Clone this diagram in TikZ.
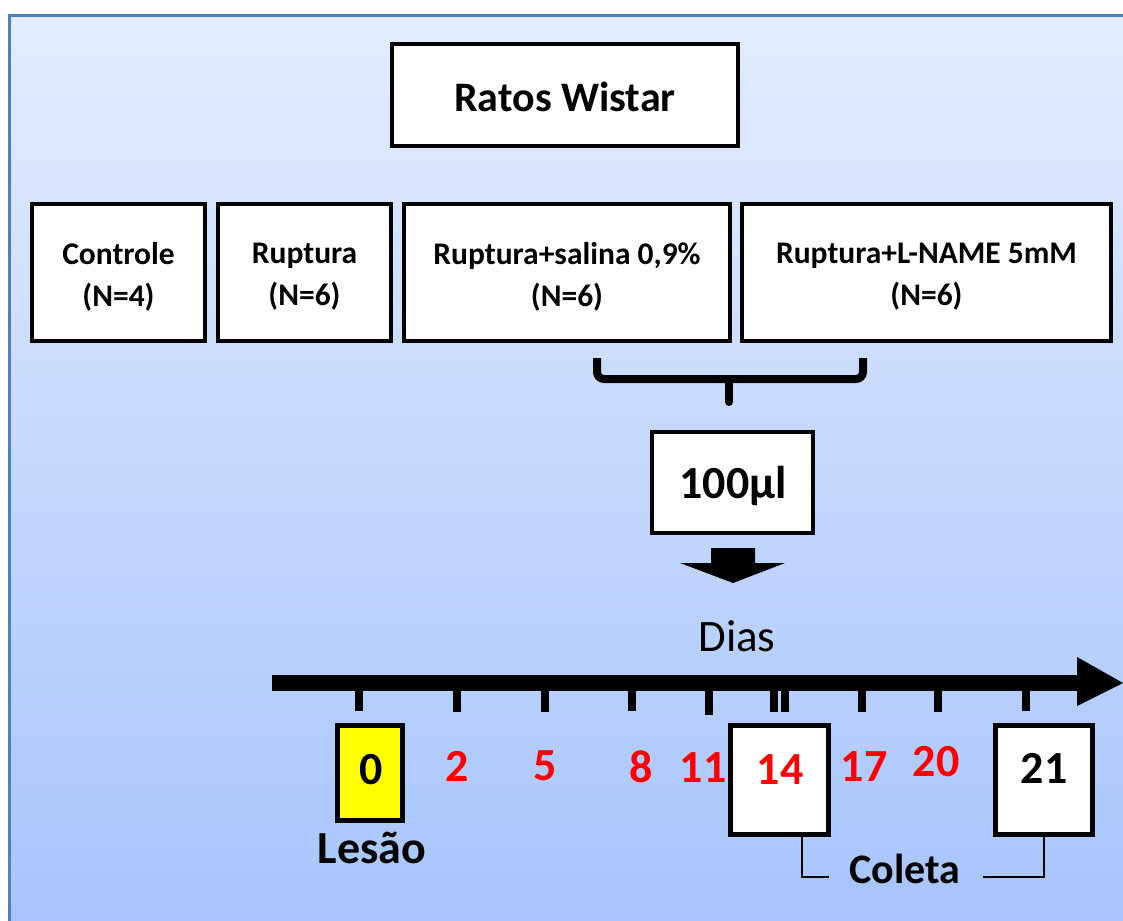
\documentclass[tikz,border=0pt]{standalone}
\usepackage{fontspec}
\setmainfont{Carlito}
\definecolor{bgtop}{RGB}{226,236,254}
\definecolor{bgbot}{RGB}{166,196,252}
\definecolor{frameblue}{RGB}{79,129,189}
\definecolor{numred}{RGB}{255,0,0}
\definecolor{lesyellow}{RGB}{255,255,0}
\tikzset{
  box/.style={draw=black, line width=4pt, fill=white, inner sep=0pt, align=center},
  grp/.style={box, minimum height=137pt},
  grptext/.style={inner sep=0pt, align=center, font=\fontsize{31.5}{42}\selectfont\bfseries},
  daybox/.style={draw=black, line width=5pt, inner sep=0pt},
  tick/.style={line width=8pt},
  rednum/.style={text=numred, font=\fontsize{46}{46}\selectfont\bfseries, inner sep=0pt},
  blacknum/.style={text=black, font=\fontsize{46}{46}\selectfont\bfseries, inner sep=0pt},
  leader/.style={line width=2pt}
}
\begin{document}
\begin{tikzpicture}[x=1pt,y=-1pt]
\useasboundingbox (0,0) rectangle (1123,920);
\clip (0,0) rectangle (1123,920);
% background panel
\shade[top color=bgtop, bottom color=bgbot] (9,16) rectangle (1130,930);
\draw[frameblue, line width=3pt] (9,940) -- (9,16) -- (1140,16);
% title
\node[box, minimum width=346pt, minimum height=102pt] (ratos) at (565,95) {};
\node[inner sep=0pt, font=\fontsize{42}{42}\selectfont\bfseries] (ratost) at (565,97) {Ratos Wistar};
% groups
\node[grp, minimum width=173pt] (ctrl) at (118.5,272.5) {};
\node[grp, minimum width=173pt] (rup) at (304.5,272.5) {};
\node[grp, minimum width=326pt] (sal) at (567,272.5) {};
\node[grp, minimum width=369pt] (lname) at (926.5,272.5) {};
\node[grptext] (ctrlt) at ([yshift=-4pt]ctrl.center) {Controle\vphantom{p}\\(N=4)};
\node[grptext] (rupt) at ([yshift=-4pt]rup.center) {Ruptura\\(N=6)};
\node[grptext] (salt) at ([yshift=-4pt]sal.center) {Ruptura+salina 0,9\%\\(N=6)};
\node[grptext] (lnamet) at ([yshift=-4pt]lname.center) {Ruptura+L-NAME 5mM\\(N=6)};
% brace
\coordinate (bl) at (597,358);
\coordinate (br) at (863,358);
\coordinate (bm) at (729,379);
\coordinate (bs) at (729,402);
\draw[line width=8pt, rounded corners=7pt] (bl) -- (597,379) -- (863,379) -- (br);
\draw[line width=8pt, line cap=round] (bm) -- (bs);
% volume
\node[box, minimum width=161pt, minimum height=101pt] (vol) at (732.5,482.5) {};
\node[inner sep=0pt, font=\fontsize{46}{46}\selectfont\bfseries] (volt) at (733,486) {100µl};
% block arrow
\fill[black] (711,548) -- (755,548) -- (755,563) -- (785,563) -- (733,583) -- (680,563) -- (711,563) -- cycle;
% axis
\node[font=\fontsize{45}{45}\selectfont, inner sep=0pt] (dias) at (737,636) {Dias};
\coordinate (ax0) at (272,683);
\coordinate (ax1) at (1080,683);
\draw[line width=16pt] (ax0) -- (ax1);
\fill[black] (1077,657) -- (1123,683) -- (1077,706) -- cycle;
% ticks
\foreach \x/\b in {359/711,457/712,545/712,632/711,709/715,774/712,785/712,862/712,938/712,1026/711}
  \draw[tick] (\x,690) -- (\x,\b);
% day boxes
\node[daybox, fill=lesyellow, minimum width=65pt, minimum height=95pt] (d0) at (370,773) {};
\node[blacknum] (n0) at (371,770) {0};
\node[daybox, fill=white, minimum width=98pt, minimum height=109pt] (d14) at (779.5,780) {};
\node[daybox, fill=white, minimum width=97pt, minimum height=109pt] (d21) at (1044,780) {};
\node[rednum] (n14) at (780,770) {14};
\node[blacknum] (n21) at (1044,768) {21};
% red numbers
\node[rednum] (n2) at (457,766) {2};
\node[rednum] (n5) at (545,766) {5};
\node[rednum] (n8) at (641,767) {8};
\node[rednum] (n11) at (703,768) {11};
\node[rednum] (n17) at (864,767) {17};
\node[rednum] (n20) at (936,762) {20};
% labels
\node[blacknum, font=\fontsize{46}{46}\selectfont\bfseries] (les) at (372,848) {Lesão};
\node[blacknum, font=\fontsize{42}{42}\selectfont\bfseries] (col) at (905,869) {Coleta};
\coordinate (c1) at (829,877);
\coordinate (c2) at (983,877);
\draw[leader] (d14.south -| 802,0) |- (c1);
\draw[leader] (c2) -| (d21.south);
\end{tikzpicture}
\end{document}
